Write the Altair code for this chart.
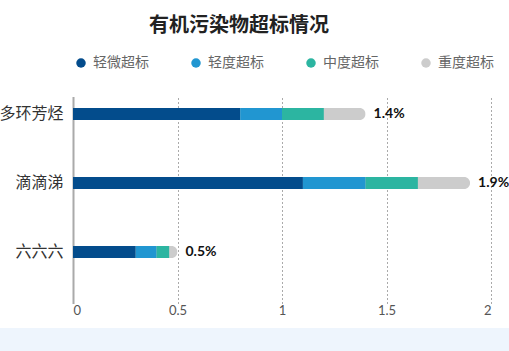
import altair as alt
import pandas as pd

categories = ["多环芳烃", "滴滴涕", "六六六"]
series = ["轻微超标", "轻度超标", "中度超标", "重度超标"]
slight = [0.8, 1.1, 0.3]
mild = [0.2, 0.3, 0.1]
moderate = [0.2, 0.25, 0.06]
severe = [0.2, 0.25, 0.04]
colors = ["#034C8C", "#2196D1", "#2CB5A1", "#CCCCCC"]
ticks = [0, 0.5, 1, 1.5, 2]

FONT = "Noto Sans CJK SC"

rows = []
for i, c in enumerate(categories):
    for j, vals in enumerate([slight, mild, moderate, severe]):
        rows.append({"category": c, "series": series[j], "order": j, "value": vals[i]})
df = pd.DataFrame(rows)

y_enc = alt.Y(
    "category:N",
    sort=categories,
    scale=alt.Scale(range=[-8.5, 198.5], paddingInner=0, paddingOuter=0),
    axis=alt.Axis(title=None, domain=False, ticks=False, labelFontSize=16,
                  labelColor="#333333", labelPadding=10, labelFont=FONT),
)
x_scale = alt.Scale(domain=[0, 2], nice=False)
x_axis = alt.Axis(
    title=None, values=ticks, format="~g", domain=False, ticks=False, grid=True,
    gridDash={"condition": {"test": "datum.value === 0", "value": [1, 0]}, "value": [2, 2]},
    gridColor="#aaaaaa",
    gridWidth={"condition": {"test": "datum.value === 0", "value": 2}, "value": 1},
    labelFontSize=13, labelColor="#555555", labelPadding=9, labelFont="Lato",
)
color_enc = alt.Color(
    "series:N",
    scale=alt.Scale(domain=series, range=colors),
    legend=alt.Legend(
        orient="none", legendX=1, legendY=-32, direction="horizontal", title=None,
        symbolType="circle", symbolSize=90, symbolStrokeWidth=0, labelFontSize=14,
        labelColor="#666666", labelFont=FONT, labelOffset=5, columnPadding=40,
    ),
)

totals = alt.Chart(df).transform_aggregate(
    total="sum(value)", groupby=["category"]
).transform_calculate(
    label="format(datum.total, '.1f') + '%'"
)

ends = totals.mark_bar(size=12, cornerRadiusEnd=6, color="#CCCCCC").encode(
    x=alt.X("total:Q", scale=x_scale, axis=x_axis), y=y_enc,
)

bars = alt.Chart(df).transform_stack(
    stack="value", groupby=["category"], as_=["x0", "x1"],
    sort=[alt.SortField("order", "ascending")],
).transform_filter("datum.order < 3").mark_bar(size=12).encode(
    x=alt.X("x0:Q", scale=x_scale, axis=x_axis), x2="x1:Q", y=y_enc, color=color_enc,
)

labels = totals.mark_text(align="left", baseline="middle", dx=8, fontSize=14, fontWeight="bold",
                          color="#111111", font="Lato").encode(
    x=alt.X("total:Q", scale=x_scale, axis=x_axis), y=y_enc, text="label:N",
)
band = alt.Chart(pd.DataFrame({"a": [0]})).mark_rect(color="#EEF5FD").encode(
    x=alt.value(-73), x2=alt.value(436), y=alt.value(240), y2=alt.value(263),
)

chart = alt.layer(band, ends, bars, labels).properties(
    width=418, height=207,
    background="white",
    autosize=alt.AutoSizeParams(type="none"),
    padding={"left": 73, "top": 88, "right": 18, "bottom": 56},
    title=alt.Title("有机污染物超标情况", fontSize=20, fontWeight="bold", color="#222222",
                    font=FONT, anchor="start", dx=150, offset=20),
).configure_view(stroke=None)

chart.save("out.html", embed_options={"renderer": "svg", "actions": False})
